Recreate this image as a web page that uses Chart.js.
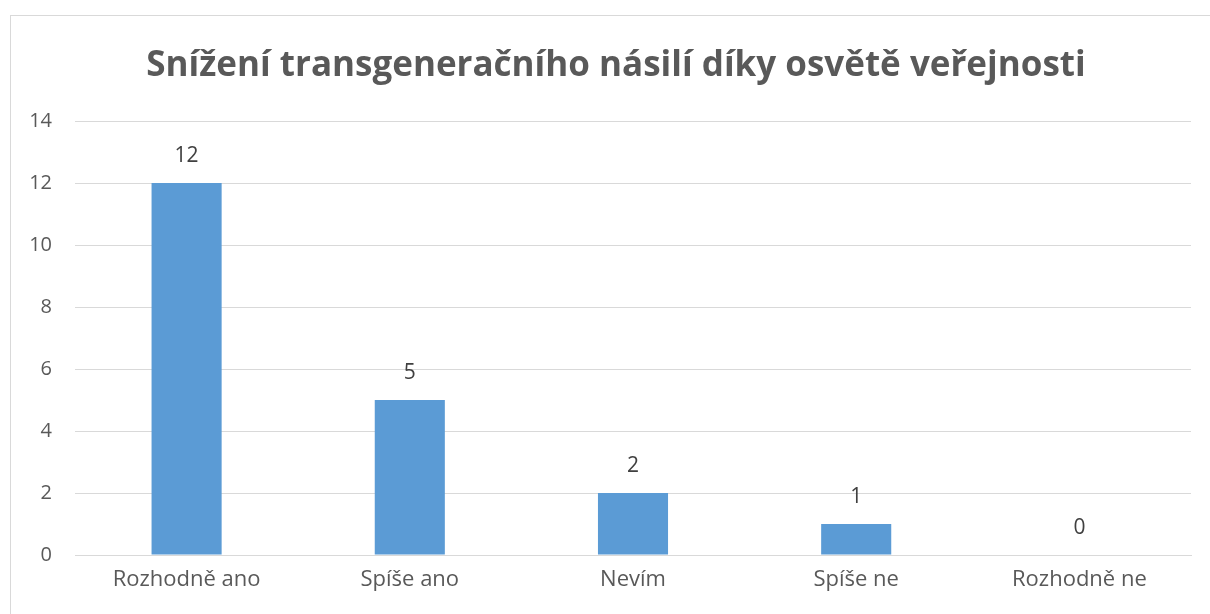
<!DOCTYPE html>
<html>
<head>
<meta charset="utf-8">
<script src="https://cdn.jsdelivr.net/npm/chart.js@4/dist/chart.umd.min.js"></script>
<style>
    html, body { margin: 0; padding: 0; background: #fff; }
    #wrap { position: relative; width: 1210px; height: 614px; overflow: hidden; }
    #frame { position: absolute; left: 10px; top: 15px; width: 1300px; height: 700px; border: 1px solid #d9d9d9; }
    #chart { position: absolute; left: 0; top: 0; }
</style>
</head>
<body>
<div id="wrap">
    <div id="frame"></div>
    <canvas id="chart" width="1210" height="614"></canvas>
</div>
<script>
"use strict";

// Chart data
const chartTitle = 'Snížení transgeneračního násilí díky osvětě veřejnosti';
const categories = ['Rozhodně ano', 'Spíše ano', 'Nevím', 'Spíše ne', 'Rozhodně ne'];
const answerCounts = [12, 5, 2, 1, 0];
const yTicks = [0, 2, 4, 6, 8, 10, 12, 14];

const fontFamily = '"Open Sans", "Liberation Sans", sans-serif';

// Title drawn by hand so it can sit centred over the whole frame
const frameTitle = {
    id: 'frameTitle',
    afterDraw(chart) {
        const ctx = chart.ctx;
        ctx.save();
        ctx.fillStyle = '#595959';
        ctx.font = 'bold 35px ' + fontFamily;
        ctx.textAlign = 'center';
        ctx.textBaseline = 'middle';
        ctx.fillText(chartTitle, 616, 66);
        ctx.restore();
    }
};

// Value labels above each bar
const valueLabels = {
    id: 'valueLabels',
    afterDatasetsDraw(chart) {
        const ctx = chart.ctx;
        const meta = chart.getDatasetMeta(0);
        ctx.save();
        ctx.fillStyle = '#404040';
        ctx.font = '21px ' + fontFamily;
        ctx.textAlign = 'center';
        ctx.textBaseline = 'middle';
        meta.data.forEach(function(bar, i) {
            ctx.fillText(String(answerCounts[i]), bar.x, bar.y - 27);
        });
        ctx.restore();
    }
};

const ctx = document.getElementById('chart');
new Chart(ctx, {
    type: 'bar',
    data: {
        labels: categories,
        datasets: [{
            data: answerCounts,
            backgroundColor: '#5b9bd5',
            borderWidth: 0,
            barPercentage: 0.314,
            categoryPercentage: 1
        }]
    },
    options: {
        responsive: false,
        animation: false,
        layout: { padding: { left: 0, right: 19, top: 121, bottom: 0 } },
        plugins: {
            legend: { display: false },
            tooltip: { enabled: false },
            title: { display: false }
        },
        scales: {
            x: {
                grid: { display: false, drawTicks: false },
                border: { display: true, color: '#d9d9d9', width: 1 },
                ticks: { color: '#595959', font: { family: fontFamily, size: 22 }, padding: 12 },
                afterFit: function(scale) { scale.height = 59; }
            },
            y: {
                min: 0,
                max: 14,
                afterBuildTicks: function(scale) {
                    scale.ticks = yTicks.map(v => ({ value: v }));
                },
                grid: { color: '#d9d9d9', lineWidth: 1, drawTicks: false },
                border: { display: false },
                ticks: { color: '#595959', font: { family: fontFamily, size: 20 }, padding: 23 },
                afterFit: function(scale) { scale.width = 75; }
            }
        }
    },
    plugins: [valueLabels, frameTitle]
});
</script>
</body>
</html>
